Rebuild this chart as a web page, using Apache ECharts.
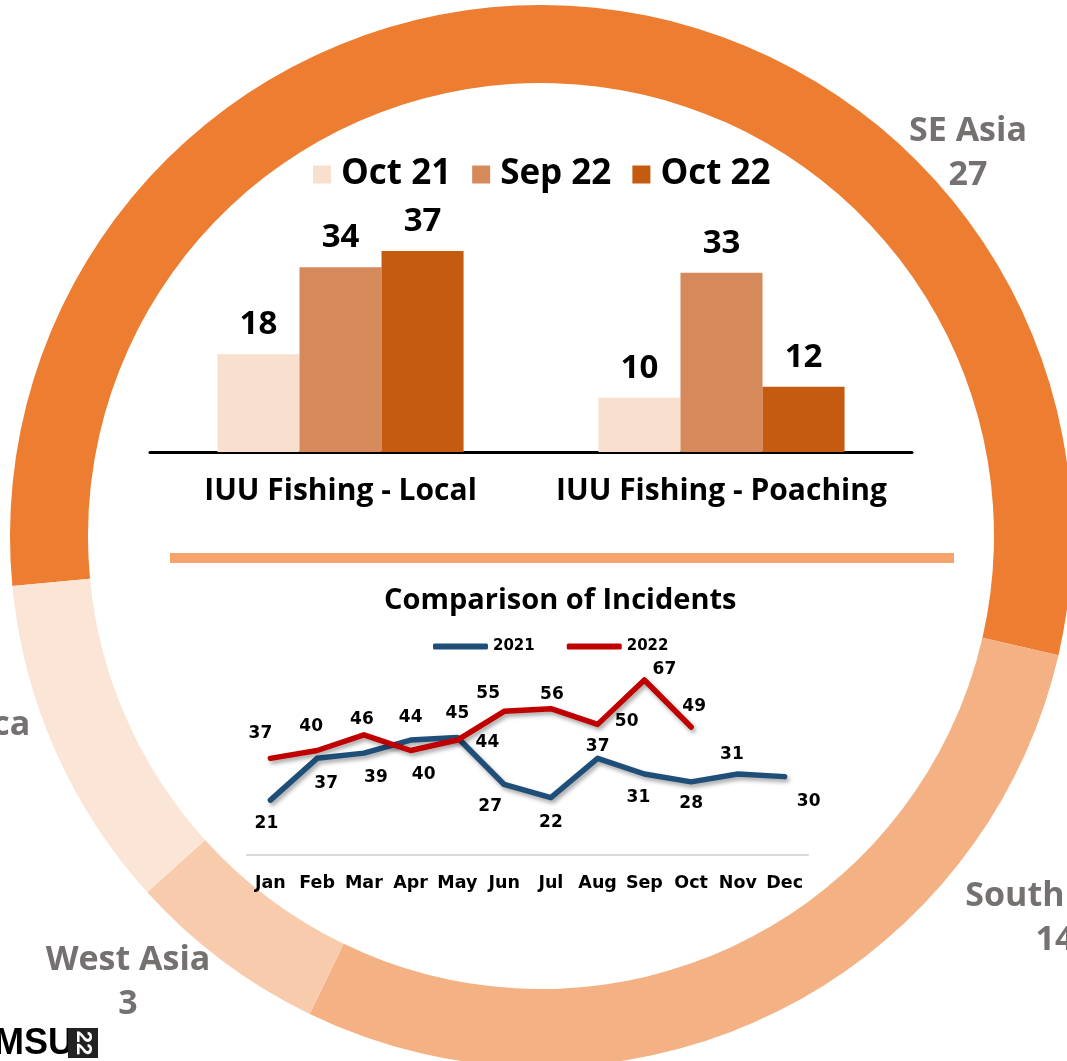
<!DOCTYPE html>
<html>
<head>
<meta charset="utf-8">
<title>IUU Fishing incidents</title>
<script src="https://cdn.jsdelivr.net/npm/echarts@6/dist/echarts.min.js"></script>
<style>
  html, body { margin: 0; padding: 0; background: #fff; }
  #main { width: 1067px; height: 1061px; }
</style>
</head>
<body>
<div id="main"></div>
<script>
// 区域分布（外圈）
var regionNames = ['SE Asia', 'South Asia', 'West Asia', 'Africa'];
var regionValues = [27, 14, 3, 5];

// 柱状图
var barCategories = ['IUU Fishing - Local', 'IUU Fishing - Poaching'];
var barSeriesNames = ['Oct 21', 'Sep 22', 'Oct 22'];
var oct21 = [18, 10];
var sep22 = [34, 33];
var oct22 = [37, 12];

// 折线图
var months = ['Jan', 'Feb', 'Mar', 'Apr', 'May', 'Jun', 'Jul', 'Aug', 'Sep', 'Oct', 'Nov', 'Dec'];
var inc2021 = [21, 37, 39, 44, 45, 27, 22, 37, 31, 28, 31, 30];
var inc2022 = [37, 40, 46, 40, 44, 55, 56, 50, 67, 49];

// label placement (not data)
var regionColors = ['#ED7D31', '#F4B183', '#F8CBAD', '#FBE5D6'];
var regionLabelSpots = [[968, 153], [1055, 918], [128, 982], [-20, 747]];
var off2021 = [[-4, 23], [9, 25], [12, 24], [0, -22], [0, -24], [-14, 22], [0, 25], [0, -12], [-6, 24], [0, 22], [-6, -19], [24, 25]];
var off2022 = [[-10, -25], [-6, -24], [-2, -15], [13, 24], [30, 3], [-16, -18], [1, -14], [29, -3], [20, -10], [3, -20]];

var SANS = '"Open Sans", sans-serif';
var DV = '"DejaVu Sans", sans-serif';

function withOffsets(values, offs) {
    return values.map(function (v, i) {
        return { value: v, label: { offset: offs[i] } };
    });
}

var chart = echarts.init(document.getElementById('main'));

var barLabel = {
    show: true,
    position: 'top',
    distance: 13,
    fontFamily: SANS,
    fontSize: 33,
    fontWeight: 'bold',
    color: '#000'
};

var option = {
    animation: false,
    title: {
        text: 'Comparison of Incidents',
        left: 384,
        top: 586,
        padding: 0,
        textStyle: { fontFamily: SANS, fontSize: 29, fontWeight: 'bold', color: '#000' }
    },
    legend: [
        {
            data: barSeriesNames,
            left: 313,
            top: 157,
            padding: 0,
            icon: 'rect',
            itemWidth: 18,
            itemHeight: 18,
            itemGap: 21,
            textStyle: { fontFamily: SANS, fontSize: 35, fontWeight: 'bold', color: '#000', padding: [0, 0, 0, 5] }
        },
        {
            data: ['2021', '2022'],
            left: 433,
            top: 639,
            padding: 0,
            icon: 'roundRect',
            itemWidth: 55,
            itemHeight: 6,
            itemGap: 32,
            textStyle: { fontFamily: DV, fontSize: 15, fontWeight: 'bold', color: '#000' }
        }
    ],
    grid: [
        { left: 150, top: 234.7, width: 762, height: 217.3 },
        { left: 247, top: 646, width: 561, height: 209 }
    ],
    xAxis: [
        {
            gridIndex: 0,
            type: 'category',
            data: barCategories,
            axisLine: { lineStyle: { color: '#000', width: 3 } },
            axisTick: { show: false },
            axisLabel: { fontFamily: SANS, fontSize: 30, fontWeight: 'bold', color: '#000', margin: 24, interval: 0 }
        },
        {
            gridIndex: 1,
            type: 'category',
            data: months,
            boundaryGap: true,
            axisLine: { lineStyle: { color: '#D9D9D9', width: 2 } },
            axisTick: { show: false },
            axisLabel: { fontFamily: DV, fontSize: 17.5, fontWeight: 'bold', color: '#000', margin: 19, interval: 0 }
        }
    ],
    yAxis: [
        { gridIndex: 0, type: 'value', min: 0, max: 40, show: false },
        { gridIndex: 1, type: 'value', min: 0, max: 80, show: false }
    ],
    series: [
        {
            name: 'Regions',
            type: 'pie',
            z: 0,
            silent: true,
            center: [541, 536],
            radius: [453, 531],
            startAngle: 185.4,
            clockwise: true,
            avoidLabelOverlap: false,
            data: regionNames.map(function (n, i) {
                return { name: n, value: regionValues[i], itemStyle: { color: regionColors[i] } };
            }),
            label: {
                show: true,
                position: 'outside',
                formatter: '{b}\n{c}',
                fontFamily: SANS,
                fontSize: 34,
                fontWeight: 'bold',
                lineHeight: 44,
                color: '#767171'
            },
            labelLine: { show: false },
            labelLayout: function (p) {
                var s = regionLabelSpots[p.dataIndex];
                return { x: s[0], y: s[1], align: 'center', verticalAlign: 'middle' };
            }
        },
        {
            name: 'Oct 21', type: 'bar', xAxisIndex: 0, yAxisIndex: 0,
            data: oct21, barGap: '0%', barCategoryGap: '35.4%',
            itemStyle: { color: '#F9DFCE' }, label: barLabel
        },
        {
            name: 'Sep 22', type: 'bar', xAxisIndex: 0, yAxisIndex: 0,
            data: sep22, barGap: '0%', barCategoryGap: '35.4%',
            itemStyle: { color: '#D6895A' }, label: barLabel
        },
        {
            name: 'Oct 22', type: 'bar', xAxisIndex: 0, yAxisIndex: 0,
            data: oct22, barGap: '0%', barCategoryGap: '35.4%',
            itemStyle: { color: '#C55A11' }, label: barLabel
        },
        {
            name: '2021', type: 'line', xAxisIndex: 1, yAxisIndex: 1,
            data: withOffsets(inc2021, off2021),
            symbol: 'circle', symbolSize: 1, showSymbol: true,
            itemStyle: { color: '#1F4E79' },
            lineStyle: { color: '#1F4E79', width: 5.5, cap: 'round', join: 'round',
                shadowColor: 'rgba(0,0,0,0.35)', shadowBlur: 4, shadowOffsetX: 2, shadowOffsetY: 3 },
            label: { show: true, position: 'inside', fontFamily: DV, fontSize: 17, fontWeight: 'bold', color: '#000' }
        },
        {
            name: '2022', type: 'line', xAxisIndex: 1, yAxisIndex: 1,
            data: withOffsets(inc2022, off2022),
            symbol: 'circle', symbolSize: 1, showSymbol: true,
            itemStyle: { color: '#C00000' },
            lineStyle: { color: '#C00000', width: 5.5, cap: 'round', join: 'round',
                shadowColor: 'rgba(0,0,0,0.35)', shadowBlur: 4, shadowOffsetX: 2, shadowOffsetY: 3 },
            label: { show: true, position: 'inside', fontFamily: DV, fontSize: 17, fontWeight: 'bold', color: '#000' }
        }
    ],
    graphic: [
        // 分隔线
        { type: 'rect', z: 1, shape: { x: 170, y: 553, width: 784, height: 10 }, style: { fill: '#F4A46C' } },
        // logo
        { type: 'text', left: -6, top: 1026, style: { text: 'MSU', fontFamily: '"Liberation Sans Narrow", "Liberation Sans", sans-serif', fontSize: 36, fontWeight: 'bold', fill: '#000' } },
        { type: 'rect', shape: { x: 68, y: 1028, width: 30, height: 30 }, style: { fill: '#222' } },
        { type: 'text', rotation: -Math.PI / 2, x: 83, y: 1043, style: { text: '22', fontFamily: '"Liberation Sans", sans-serif', fontSize: 22, fontWeight: 'bold', fill: '#fff', align: 'center', verticalAlign: 'middle' } }
    ]
};

chart.setOption(option);
</script>
</body>
</html>
